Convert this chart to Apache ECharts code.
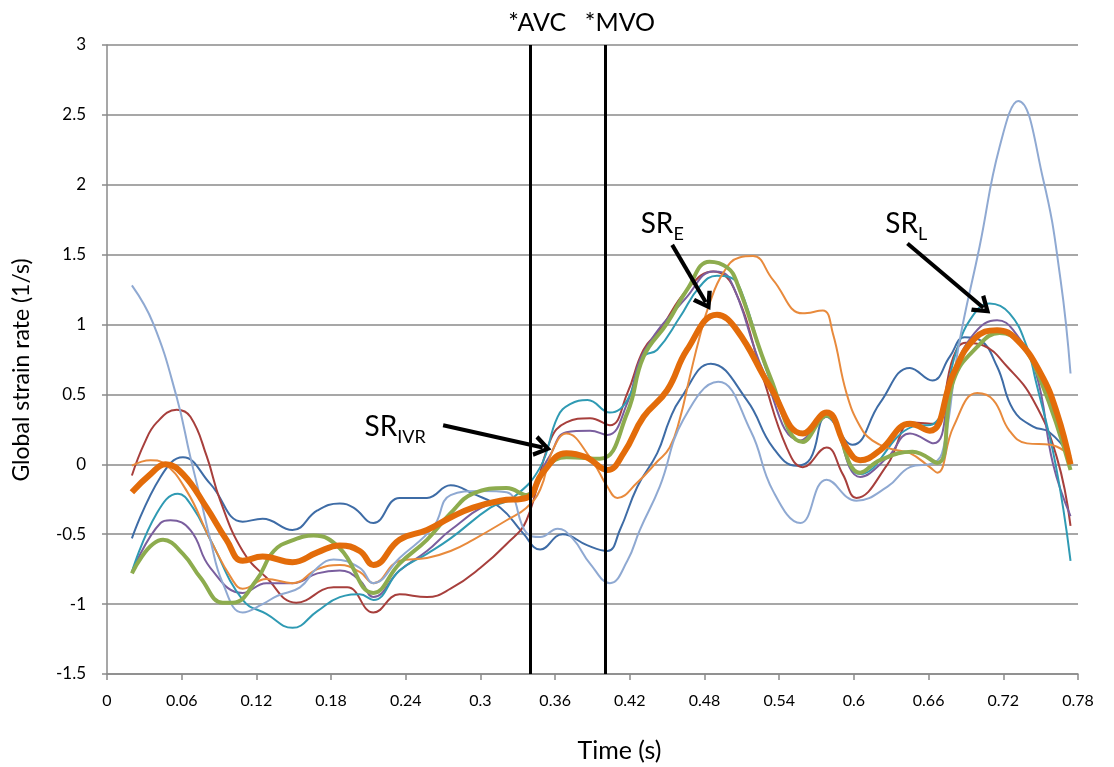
<!DOCTYPE html>
<html>
<head>
<meta charset="utf-8">
<script src="https://cdn.jsdelivr.net/npm/echarts@6/dist/echarts.min.js"></script>
<style>
html,body{margin:0;padding:0;background:#fff;}
#chart{width:1114px;height:767px;}
</style>
</head>
<body>
<div id="chart"></div>
<script>
// ---- data: [time (s), global strain rate (1/s)] ----
const darkBlue = [[0.020,-0.53],[0.043,-0.09],[0.061,0.05],[0.083,-0.14],[0.109,-0.41],[0.125,-0.39],[0.149,-0.47],[0.169,-0.33],[0.187,-0.28],[0.198,-0.31],[0.214,-0.42],[0.235,-0.24],[0.257,-0.24],[0.276,-0.15],[0.294,-0.21],[0.316,-0.31],[0.334,-0.49],[0.348,-0.61],[0.366,-0.50],[0.386,-0.58],[0.402,-0.62],[0.412,-0.47],[0.426,-0.16],[0.442,0.08],[0.452,0.32],[0.460,0.46],[0.485,0.72],[0.514,0.46],[0.535,0.12],[0.554,-0.01],[0.565,0.04],[0.578,0.34],[0.599,0.14],[0.621,0.44],[0.645,0.69],[0.663,0.60],[0.677,0.77],[0.689,0.91],[0.701,0.89],[0.715,0.70],[0.728,0.39],[0.744,0.27],[0.757,0.23],[0.774,0.06]];
const darkRed = [[0.020,-0.08],[0.030,0.15],[0.040,0.30],[0.056,0.39],[0.067,0.34],[0.080,0.06],[0.091,-0.26],[0.109,-0.62],[0.128,-0.81],[0.152,-0.99],[0.182,-0.88],[0.193,-0.88],[0.214,-1.06],[0.235,-0.93],[0.257,-0.95],[0.276,-0.89],[0.300,-0.74],[0.321,-0.57],[0.337,-0.40],[0.356,0.17],[0.369,0.30],[0.388,0.33],[0.404,0.28],[0.418,0.51],[0.431,0.82],[0.444,0.96],[0.466,1.25],[0.487,1.38],[0.503,1.27],[0.527,0.62],[0.546,0.12],[0.559,-0.02],[0.578,0.12],[0.591,-0.07],[0.602,-0.24],[0.627,0.00],[0.647,0.30],[0.664,0.29],[0.680,0.77],[0.690,0.87],[0.704,0.85],[0.723,0.70],[0.744,0.46],[0.763,0.05],[0.774,-0.44]];
const green = [[0.020,-0.78],[0.045,-0.54],[0.061,-0.64],[0.075,-0.81],[0.093,-0.99],[0.101,-0.99],[0.120,-0.83],[0.134,-0.62],[0.150,-0.54],[0.166,-0.51],[0.187,-0.60],[0.214,-0.92],[0.235,-0.71],[0.257,-0.54],[0.276,-0.35],[0.294,-0.21],[0.321,-0.17],[0.337,-0.22],[0.353,-0.02],[0.369,0.05],[0.396,0.04],[0.418,0.37],[0.431,0.77],[0.450,1.01],[0.466,1.25],[0.484,1.45],[0.498,1.41],[0.506,1.30],[0.533,0.62],[0.559,0.16],[0.578,0.35],[0.605,-0.06],[0.621,0.03],[0.647,0.09],[0.667,0.01],[0.680,0.60],[0.699,0.84],[0.717,0.94],[0.733,0.87],[0.750,0.60],[0.774,-0.04]];
const purple = [[0.020,-0.77],[0.043,-0.42],[0.051,-0.40],[0.067,-0.47],[0.083,-0.74],[0.109,-0.92],[0.128,-0.85],[0.149,-0.85],[0.169,-0.78],[0.187,-0.76],[0.203,-0.83],[0.214,-0.95],[0.235,-0.76],[0.257,-0.62],[0.276,-0.47],[0.308,-0.28],[0.334,-0.24],[0.355,0.05],[0.369,0.23],[0.388,0.24],[0.402,0.21],[0.418,0.44],[0.431,0.80],[0.466,1.20],[0.487,1.38],[0.500,1.33],[0.527,0.67],[0.557,0.17],[0.578,0.34],[0.605,-0.09],[0.627,0.05],[0.645,0.22],[0.664,0.15],[0.680,0.65],[0.697,0.94],[0.715,1.03],[0.728,0.96],[0.746,0.66],[0.760,0.00],[0.774,-0.37]];
const teal = [[0.020,-0.77],[0.040,-0.35],[0.057,-0.21],[0.069,-0.31],[0.083,-0.54],[0.109,-0.97],[0.128,-1.07],[0.149,-1.17],[0.169,-1.05],[0.187,-0.95],[0.203,-0.93],[0.214,-0.97],[0.235,-0.76],[0.257,-0.64],[0.276,-0.53],[0.308,-0.31],[0.326,-0.24],[0.348,-0.02],[0.362,0.34],[0.372,0.43],[0.386,0.46],[0.404,0.37],[0.418,0.46],[0.431,0.77],[0.442,0.82],[0.460,1.05],[0.476,1.27],[0.490,1.35],[0.500,1.34],[0.509,1.25],[0.535,0.55],[0.557,0.22],[0.578,0.34],[0.605,-0.07],[0.647,0.27],[0.664,0.29],[0.682,0.80],[0.693,1.03],[0.709,1.15],[0.725,1.08],[0.739,0.84],[0.746,0.60],[0.762,0.00],[0.774,-0.69]];
const orange = [[0.020,-0.01],[0.035,0.03],[0.045,0.01],[0.064,-0.19],[0.083,-0.54],[0.101,-0.83],[0.109,-0.89],[0.128,-0.82],[0.149,-0.85],[0.169,-0.75],[0.187,-0.72],[0.203,-0.77],[0.214,-0.85],[0.235,-0.69],[0.257,-0.67],[0.276,-0.62],[0.294,-0.54],[0.321,-0.40],[0.337,-0.31],[0.348,-0.18],[0.358,0.10],[0.369,0.22],[0.388,0.05],[0.402,-0.16],[0.410,-0.24],[0.426,-0.13],[0.442,0.02],[0.452,0.12],[0.460,0.32],[0.468,0.62],[0.476,0.91],[0.484,1.15],[0.495,1.37],[0.508,1.48],[0.519,1.49],[0.535,1.32],[0.559,1.08],[0.575,1.10],[0.583,0.94],[0.594,0.51],[0.605,0.27],[0.615,0.17],[0.630,0.11],[0.645,0.08],[0.661,-0.02],[0.667,-0.06],[0.680,0.27],[0.699,0.51],[0.712,0.46],[0.725,0.24],[0.739,0.15],[0.758,0.14],[0.774,0.06]];
const lightBlue = [[0.020,1.28],[0.037,1.01],[0.056,0.48],[0.067,0.05],[0.075,-0.24],[0.083,-0.54],[0.093,-0.85],[0.109,-1.06],[0.125,-1.00],[0.137,-0.94],[0.155,-0.88],[0.169,-0.74],[0.182,-0.68],[0.203,-0.74],[0.214,-0.85],[0.235,-0.67],[0.262,-0.45],[0.276,-0.22],[0.300,-0.19],[0.321,-0.20],[0.337,-0.49],[0.348,-0.52],[0.362,-0.46],[0.374,-0.53],[0.388,-0.71],[0.404,-0.85],[0.418,-0.69],[0.428,-0.47],[0.444,-0.16],[0.463,0.32],[0.491,0.59],[0.517,0.24],[0.535,-0.19],[0.557,-0.42],[0.578,-0.11],[0.602,-0.26],[0.627,-0.16],[0.645,-0.02],[0.664,0.01],[0.672,0.12],[0.684,0.84],[0.701,1.56],[0.717,2.27],[0.732,2.60],[0.752,2.04],[0.766,1.32],[0.774,0.65]];
const meanSR = [[0.020,-0.20],[0.035,-0.07],[0.047,0.00],[0.061,-0.07],[0.080,-0.31],[0.096,-0.54],[0.109,-0.69],[0.125,-0.66],[0.149,-0.70],[0.169,-0.63],[0.187,-0.58],[0.203,-0.62],[0.214,-0.72],[0.235,-0.54],[0.257,-0.47],[0.276,-0.38],[0.294,-0.31],[0.316,-0.26],[0.337,-0.24],[0.350,-0.06],[0.369,0.08],[0.385,0.05],[0.402,-0.04],[0.415,0.08],[0.431,0.34],[0.450,0.53],[0.466,0.82],[0.490,1.07],[0.506,0.96],[0.533,0.55],[0.559,0.22],[0.578,0.37],[0.594,0.12],[0.605,0.03],[0.621,0.10],[0.645,0.29],[0.661,0.24],[0.680,0.65],[0.697,0.90],[0.715,0.96],[0.731,0.89],[0.750,0.65],[0.763,0.37],[0.774,0.00]];

const xTickLabels = ['0','0.06','0.12','0.18','0.24','0.3','0.36','0.42','0.48','0.54','0.6','0.66','0.72','0.78'];
const yTickLabels = ['-1.5','-1','-0.5','0','0.5','1','1.5','2','2.5','3'];

const events = [{name:'*AVC', t:0.3366}, {name:'*MVO', t:0.4016}];
// arrows: [tail, head] in data coords
const arrows = [
  [[0.270,0.28],[0.350,0.12]],
  [[0.454,1.57],[0.481,1.16]],
  [[0.643,1.58],[0.704,1.12]]
];
const arrowLabels = [
  {main:'SR', sub:'IVR', at:[0.2315,0.28]},
  {main:'SR', sub:'E', at:[0.446,1.735]},
  {main:'SR', sub:'L', at:[0.642,1.735]}
];
const yAxisTitle = 'Global strain rate (1/s)';

const FONT = 'Lato, "Open Sans", sans-serif';
const chart = echarts.init(document.getElementById('chart'), null, {renderer:'canvas'});

function line(data, color, width, z) {
  return {
    type:'line', data:data, smooth:0.45, showSymbol:false, symbol:'none',
    lineStyle:{color:color, width:width}, itemStyle:{color:color}, z:z, silent:true
  };
}

const series = [
  line(darkBlue, '#3E6CA6', 2, 2),
  line(darkRed, '#A73F3C', 2, 2),
  line(green, '#8DAC4E', 4, 3),
  line(purple, '#7A5E9E', 2, 2),
  line(teal, '#2F9AB3', 2, 2),
  line(orange, '#E88A3C', 2, 2),
  line(lightBlue, '#8FA9D2', 2, 2),
  line(meanSR, '#E36C0A', 6, 4)
];

const eventPad = [[0,0,0,14],[0,0,0,30]];
series.push({
  type:'line', data:[], silent:true, z:6,
  markLine:{
    silent:true, symbol:['none','none'], animation:false,
    lineStyle:{color:'#000', width:3, type:'solid'},
    label:{show:true, position:'end', distance:10, color:'#000', fontSize:25, fontFamily:FONT,
      formatter:p=>p.name},
    data: events.map((e,i)=>({name:e.name, xAxis:e.t, label:{padding:eventPad[i]}}))
  }
});

const chevron = 'path://M10,0 L20,15 L16.5,17 L10,7 L3.5,17 L0,15 Z';
series.push({
  type:'line', data:[], silent:true, z:7,
  markLine:{
    silent:true, symbol:['none',chevron], symbolSize:[22,18], animation:false,
    lineStyle:{color:'#000', width:4, type:'solid'},
    label:{show:false},
    data: arrows.map(a=>[{coord:a[0]},{coord:a[1]}])
  },
  markPoint:{
    silent:true, symbol:'circle', symbolSize:0, animation:false,
    label:{show:true, position:'inside', color:'#000', fontFamily:FONT,
      rich:{
        a:{fontSize:28, fontFamily:FONT, color:'#000', verticalAlign:'bottom', lineHeight:32},
        b:{fontSize:18, fontFamily:FONT, color:'#000', verticalAlign:'bottom', lineHeight:18, padding:[0,0,-5,0]}
      }},
    data: arrowLabels.map(l=>({coord:l.at, label:{formatter:'{a|'+l.main+'}{b|'+l.sub+'}'}}))
  }
});

chart.setOption({
  animation:false,
  backgroundColor:'#fff',
  grid:{left:107, right:36, top:45, bottom:93, containLabel:false, outerBoundsMode:'none'},
  graphic:[{
    type:'text', x:22, y:370, rotation:Math.PI/2, silent:true,
    style:{text:yAxisTitle, fontSize:23, fontFamily:FONT, fill:'#000', align:'center', verticalAlign:'middle'}
  }],
  xAxis:{
    type:'value', min:0, max:0.78, interval:0.06,
    name:'Time (s)', nameLocation:'middle', nameGap:64,
    nameTextStyle:{fontSize:25, color:'#000', fontFamily:FONT, padding:[0,0,0,54]},
    axisLine:{show:true, onZero:false, lineStyle:{color:'#8a8a8a', width:1.5}},
    axisTick:{show:true, length:6, lineStyle:{color:'#8a8a8a', width:1.5}},
    axisLabel:{fontSize:16, color:'#000', fontFamily:FONT, margin:19,
      formatter:(v)=>{const i=Math.round(v/0.06); return xTickLabels[i]!==undefined?xTickLabels[i]:'';}},
    splitLine:{show:false}
  },
  yAxis:{
    type:'value', min:-1.5, max:3, interval:0.5,
    axisLine:{show:true, onZero:false, lineStyle:{color:'#8a8a8a', width:1.5}},
    axisTick:{show:true, length:5, lineStyle:{color:'#8a8a8a', width:1.5}},
    axisLabel:{fontSize:17, color:'#000', fontFamily:FONT, margin:21,
      formatter:(v)=>{const i=Math.round((v+1.5)/0.5); return yTickLabels[i]!==undefined?yTickLabels[i]:'';}},
    splitLine:{show:true, lineStyle:{color:'#8a8a8a', width:1.5}}
  },
  series:series
});
</script>
</body>
</html>
